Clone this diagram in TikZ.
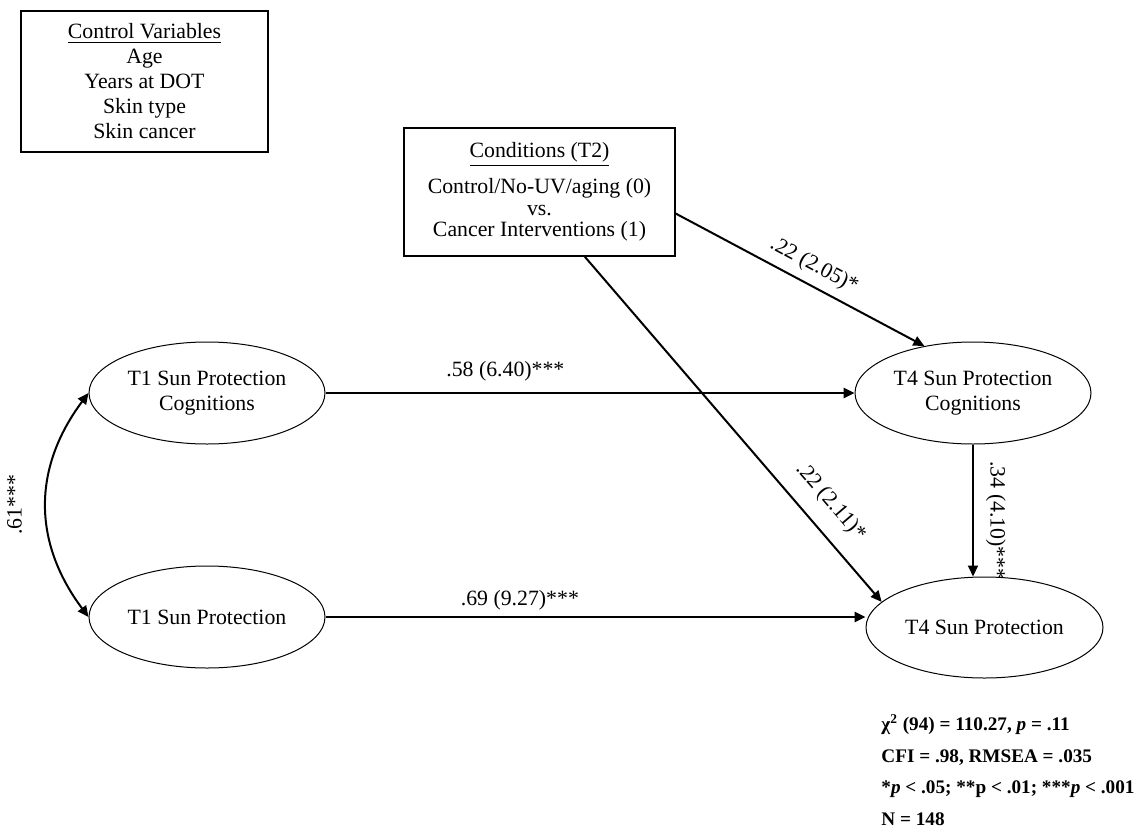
\documentclass[tikz,border=0pt]{standalone}
\usepackage{fontspec}
\setmainfont{Liberation Serif}
\usetikzlibrary{shapes.geometric,arrows.meta}

\begin{document}
\begin{tikzpicture}[x=0.5pt, y=-0.5pt,
  >={Triangle[length=5.5pt,width=5pt]},
  every node/.style={font=\fontsize{10.9}{12.5}\selectfont},
  latent/.style={draw, ellipse, line width=0.5pt, minimum width=118pt,
    minimum height=51pt, inner sep=0pt, align=center},
  infobox/.style={draw, rectangle, line width=0.8pt, inner sep=0pt, align=center},
  effect/.style={->, line width=1pt},
  coef/.style={inner sep=2pt}]
  \useasboundingbox (0,0) rectangle (1141,835);
  % Boxes at the top
  \node[infobox, minimum width=123.5pt, minimum height=70.5pt] (ctrl) at (144.5,81.5)
    {\underline{Control Variables}\\ Age\\ Years at DOT\\ Skin type\\ Skin cancer};
  \node[infobox, minimum width=135.5pt, minimum height=64pt,
    font=\fontsize{10.9}{10.8}\selectfont] (cond) at (539.5,192)
    {\underline{Conditions (T2)}\\[5.2pt] Control/No-UV/aging (0)\\ vs.\\ Cancer Interventions (1)};
  % Latent variables
  \node[latent] (t1cog) at (207,393) {T1 Sun Protection\\ Cognitions};
  \node[latent] (t1sp) at (207,617) {T1 Sun Protection};
  \node[latent] (t4cog) at (973,393) {T4 Sun Protection\\ Cognitions};
  \node[latent, minimum width=118.5pt, minimum height=50.5pt] (t4sp) at (984.5,627.5) {T4 Sun Protection};
  % Stability paths
  \draw[effect, line width=1.3pt] (t1cog) --
    node[coef, above=3.5pt, pos=0.34] (b58) {.58 (6.40)***} (t4cog);
  \draw[effect, line width=1.3pt] (t1sp.east) --
    node[coef, above=1pt, pos=0.36] (b69) {.69 (9.27)***} (t1sp.east -| t4sp.west);
  % Condition effects
  \draw[effect] (cond.-9) --
    node[coef, sloped, above=2pt, pos=0.52] (b22a) {.22 (2.05)*} (t4cog.136);
  \draw[effect] (cond.-55) --
    node[coef, sloped, above=5.7pt, pos=0.76] (b22b) {.22 (2.11)*} (t4sp.166);
  % Cognitions to behaviour
  \draw[effect] (t4cog.south) --
    node[coef, sloped, above=4pt, pos=0.575] (b34) {.34 (4.10)***} (t4cog.south |- t4sp.north);
  % Correlation at T1
  \draw[<->, line width=1pt] (t1sp.west) .. controls +(-56,-75) and +(-56,75) ..
    node[coef, sloped, above=9.8pt] (r61) {.61***} (t1cog.west);
  % Fit statistics
  \node[anchor=north west, align=left, inner sep=0pt,
    font=\bfseries\fontsize{9.6}{15.8}\selectfont] (fitstat) at (881,714)
    {χ\textsuperscript{2} (94) = 110.27, \textit{p} = .11\\
     CFI = .98, RMSEA = .035\\
     *\textit{p} < .05; **p < .01; ***\textit{p} < .001\\
     N = 148};
\end{tikzpicture}
\end{document}
